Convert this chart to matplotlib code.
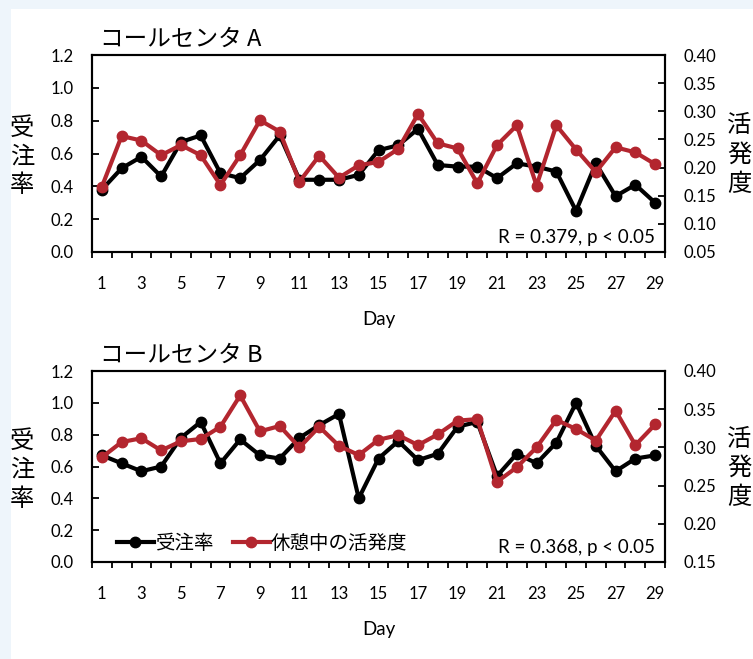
import numpy as np
import matplotlib
matplotlib.use("Agg")
import matplotlib.pyplot as plt
from matplotlib.patches import Rectangle

JP = ['Noto Sans CJK JP', 'DejaVu Sans']
NUM = ['Lato', 'Noto Sans CJK JP', 'DejaVu Sans']
plt.rcParams['font.family'] = NUM

days = np.arange(1, 30)

# コールセンタ A
order_a = [0.38, 0.51, 0.58, 0.46, 0.67, 0.71, 0.48, 0.45, 0.56, 0.71,
           0.44, 0.44, 0.44, 0.47, 0.62, 0.65, 0.75, 0.53, 0.52, 0.52,
           0.45, 0.54, 0.52, 0.49, 0.25, 0.54, 0.34, 0.41, 0.30]
activity_a = [0.166, 0.256, 0.248, 0.222, 0.240, 0.222, 0.169, 0.222, 0.284, 0.264,
              0.175, 0.221, 0.182, 0.204, 0.210, 0.233, 0.295, 0.243, 0.234, 0.172,
              0.240, 0.275, 0.168, 0.275, 0.232, 0.192, 0.236, 0.227, 0.206]

# コールセンタ B
order_b = [0.67, 0.62, 0.57, 0.60, 0.78, 0.88, 0.62, 0.77, 0.67, 0.65,
           0.78, 0.86, 0.93, 0.40, 0.65, 0.76, 0.64, 0.68, 0.85, 0.88,
           0.54, 0.68, 0.62, 0.75, 1.00, 0.73, 0.57, 0.65, 0.67]
activity_b = [0.287, 0.307, 0.312, 0.296, 0.308, 0.311, 0.327, 0.368, 0.321, 0.328,
              0.300, 0.327, 0.302, 0.290, 0.310, 0.316, 0.303, 0.317, 0.335, 0.337,
              0.255, 0.274, 0.300, 0.336, 0.324, 0.309, 0.348, 0.303, 0.330]

panels = [
    {'title': 'コールセンタ A', 'order': order_a, 'act': activity_a,
     'rlim': (0.05, 0.40), 'rticks': np.arange(0.05, 0.401, 0.05),
     'stat': 'R = 0.379, p < 0.05', 'legend': False},
    {'title': 'コールセンタ B', 'order': order_b, 'act': activity_b,
     'rlim': (0.15, 0.40), 'rticks': np.arange(0.15, 0.401, 0.05),
     'stat': 'R = 0.368, p < 0.05', 'legend': True},
]

black = '#000000'
red = '#b3262f'

W, H = 753, 659
fig = plt.figure(figsize=(W / 100, H / 100), dpi=100)
fig.patch.set_facecolor('#eef5fb')
fig.patches.append(Rectangle((11 / W, 0), 1, 1 - 9 / H, transform=fig.transFigure,
                             facecolor='white', edgecolor='none', zorder=0))

# axes boxes in pixels: (top, bottom)
boxes = [(55, 252), (371, 562)]
left_px, right_px = 92, 665

for p, (top, bot) in zip(panels, boxes):
    ax = fig.add_axes([left_px / W, 1 - bot / H, (right_px - left_px) / W, (bot - top) / H])
    ax2 = ax.twinx()
    ax.set_zorder(1)
    ax2.set_zorder(2)
    ax.patch.set_visible(False)

    l1, = ax.plot(days, p['order'], color=black, lw=3, marker='o', ms=7.5,
                  label='受注率', clip_on=False)
    l2, = ax2.plot(days, p['act'], color=red, lw=3, marker='o', ms=7.5,
                   label='休憩中の活発度', clip_on=False)

    ax.set_xlim(0.5, 29.5)
    ax.set_ylim(0, 1.2)
    ax.set_yticks(np.arange(0, 1.21, 0.2))
    ax.set_yticklabels([f'{v:.1f}' for v in np.arange(0, 1.21, 0.2)])
    ax2.set_ylim(*p['rlim'])
    ax2.set_yticks(p['rticks'])
    ax2.set_yticklabels([f'{v:.2f}' for v in p['rticks']])

    ax.set_xticks(np.arange(1, 30, 2))
    ax.set_xticks(np.arange(0.5, 29.6, 1), minor=True)
    ax.tick_params(axis='x', which='major', length=0, pad=17, labelsize=12)
    ax.tick_params(axis='x', which='minor', direction='out', length=4, width=1.3)
    ax.tick_params(axis='y', direction='in', length=5, width=1.3, pad=13, labelsize=12)
    ax2.tick_params(axis='y', direction='in', length=5, width=1.3, pad=13, labelsize=12)
    ax2.tick_params(axis='x', which='both', length=0)

    for a in (ax, ax2):
        for s in a.spines.values():
            s.set_linewidth(1.5)

    ax.set_xlabel('Day', fontsize=13.5, labelpad=14)

    ax.text(8 / (right_px - left_px), 1.02, p['title'], transform=ax.transAxes,
            fontsize=17, family=JP, ha='left', va='bottom')
    ax.text(0.983, 0.03, p['stat'], transform=ax.transAxes, fontsize=13.5,
            ha='right', va='bottom')

    mid = (top + bot) / 2 + 3
    fig.text(22 / W, 1 - mid / H, '受\n注\n率', fontsize=17.5, family=JP,
             ha='center', va='center', linespacing=1.15)
    fig.text(739 / W, 1 - (mid - 2) / H, '活\n発\n度', fontsize=17.5, family=JP,
             ha='center', va='center', linespacing=1.15)

    if p['legend']:
        ax2.legend(handles=[l1, l2], loc='lower left', ncol=2, frameon=False,
                   prop={'family': JP, 'size': 14}, handlelength=1.9,
                   handletextpad=0.05, columnspacing=1.0,
                   bbox_to_anchor=(0.03, 0.0), borderaxespad=0)

fig.savefig('out.png', dpi=100, facecolor=fig.get_facecolor())
